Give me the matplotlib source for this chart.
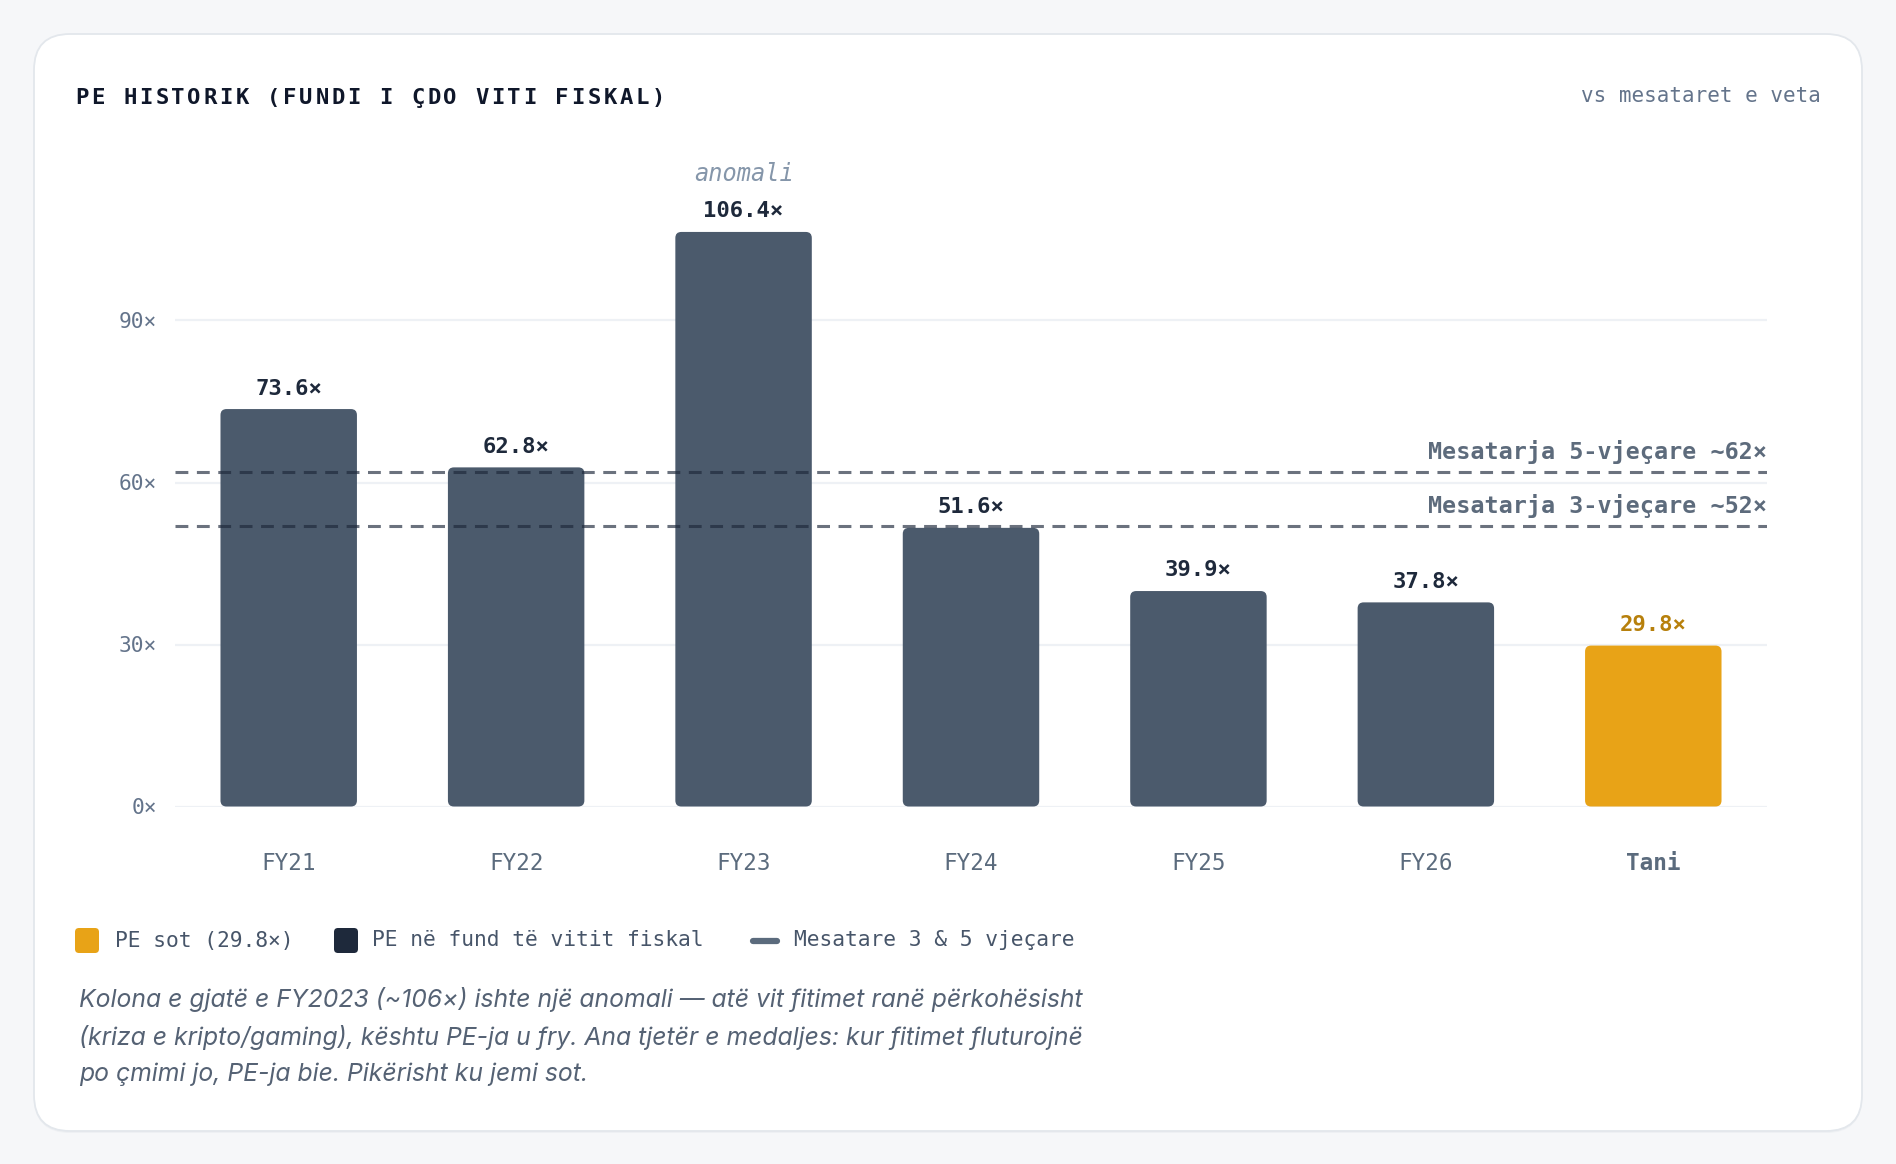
import matplotlib
matplotlib.use("Agg")
import matplotlib.pyplot as plt
from matplotlib.patches import FancyBboxPatch
from matplotlib.lines import Line2D

# ---------------- data ----------------
categories = ["FY21", "FY22", "FY23", "FY24", "FY25", "FY26", "Tani"]
pe_values = [73.6, 62.8, 106.4, 51.6, 39.9, 37.8, 29.8]
avg_5y = 62
avg_3y = 52
y_ticks = [0, 30, 60, 90]
y_tick_labels = ["0×", "30×", "60×", "90×"]

title = "PE HISTORIK (FUNDI I ÇDO VITI FISKAL)"
subtitle = "vs mesataret e veta"
avg5_label = "Mesatarja 5-vjeçare ~62×"
avg3_label = "Mesatarja 3-vjeçare ~52×"
anomaly_label = "anomali"
legend_labels = ["PE sot (29.8×)", "PE në fund të vitit fiskal", "Mesatare 3 & 5 vjeçare"]
footnote_lines = [
    "Kolona e gjatë e FY2023 (~106×) ishte një anomali — atë vit fitimet ranë përkohësisht",
    "(kriza e kripto/gaming), kështu PE-ja u fry. Ana tjetër e medaljes: kur fitimet fluturojnë",
    "po çmimi jo, PE-ja bie. Pikërisht ku jemi sot.",
]

# ---------------- style ----------------
W, H = 1896, 1164
DPI = 100
MONO = "DejaVu Sans Mono"
SANS = ["Inter", "DejaVu Sans"]
BAR = "#4b5a6c"
NOW = "#e8a317"
NOW_TXT = "#b7800c"
DARK = "#1e293b"
GRAY = "#64748b"

fig = plt.figure(figsize=(W / DPI, H / DPI), dpi=DPI)
fig.patch.set_facecolor("#f6f7f9")

# background / card axes in pixel coordinates
bg = fig.add_axes([0, 0, 1, 1])
bg.set_xlim(0, W)
bg.set_ylim(H, 0)
bg.axis("off")
bg.set_zorder(0)

shadow = FancyBboxPatch((34, 36), 1828, 1097, boxstyle="round,pad=0,rounding_size=36",
                        facecolor="#eef0f3", edgecolor="none")
bg.add_patch(shadow)
card = FancyBboxPatch((34, 34), 1828, 1097, boxstyle="round,pad=0,rounding_size=36",
                      facecolor="white", edgecolor="#e3e7ec", linewidth=1.3)
bg.add_patch(card)

# title with letter spacing
x0, adv = 75, 16.0
for i, ch in enumerate(title):
    bg.text(x0 + i * adv + adv / 2 - 1, 104, ch, ha="center", va="baseline",
            fontsize=16, fontweight="bold", family=MONO, color="#0f172a")

bg.text(1821, 96.5, subtitle, ha="right", va="center", fontsize=15, family=MONO, color=GRAY)

# ---------------- main chart ----------------
ax_left, ax_right = 175, 1767
y_zero_px, ymax = 806.5, 115
px_per_unit = 486 / 90.0
ax_top_px = y_zero_px - ymax * px_per_unit
ax = fig.add_axes([ax_left / W, (H - y_zero_px) / H, (ax_right - ax_left) / W,
                   (y_zero_px - ax_top_px) / H])
ax.set_zorder(1)
ax.patch.set_alpha(0)
ax.set_xlim(-0.5, len(categories) - 0.5)
ax.set_ylim(0, ymax)
for s in ax.spines.values():
    s.set_visible(False)

ax.set_yticks(y_ticks)
ax.set_yticklabels(y_tick_labels, family=MONO, fontsize=15.3, color=GRAY)
ax.tick_params(axis="y", length=0, pad=13)
ax.set_xticks(range(len(categories)))
ax.set_xticklabels(categories, family=MONO, fontsize=16.3, color="#5b6b7d")
ax.tick_params(axis="x", length=0, pad=33)
xt = ax.get_xticklabels()
xt[-1].set_fontweight("bold")
ax.grid(axis="y", color="#eef1f5", linewidth=1.6, zorder=0)
ax.set_axisbelow(True)

colors = [BAR] * (len(categories) - 1) + [NOW]
bars = ax.bar(range(len(categories)), pe_values, width=0.6, color=colors)

# round the bar corners
x_units_per_px = (len(categories)) / (ax_right - ax_left)
y_units_per_px = ymax / (y_zero_px - ax_top_px)
radius_px = 6
for b in bars:
    x, y = b.get_x(), b.get_y()
    w, h = b.get_width(), b.get_height()
    fc = b.get_facecolor()
    b.remove()
    p = FancyBboxPatch((x, y), w, h,
                       boxstyle=f"round,pad=0,rounding_size={radius_px * x_units_per_px}",
                       mutation_aspect=y_units_per_px / x_units_per_px,
                       facecolor=fc, edgecolor="none", zorder=2)
    ax.add_patch(p)

# average lines
for val in (avg_5y, avg_3y):
    ax.axhline(val, color=DARK, alpha=0.66, linewidth=2.2, dashes=(4.2, 2.8), zorder=3)
for val, lab in ((avg_5y, avg5_label), (avg_3y, avg3_label)):
    ax.annotate(lab, xy=(1, val), xycoords=("axes fraction", "data"),
                xytext=(0, 14.5), textcoords="offset points", ha="right", va="center",
                family=MONO, fontsize=16.8, fontweight="bold", color="#5d6b7c")

# value labels
for i, v in enumerate(pe_values):
    c = NOW_TXT if i == len(pe_values) - 1 else DARK
    ax.annotate(f"{v:.1f}×", xy=(i, v), xytext=(0, 14.8), textcoords="offset points",
                ha="center", va="center", family=MONO, fontsize=16, fontweight="bold", color=c)

imax = pe_values.index(max(pe_values))
ax.annotate(anomaly_label, xy=(imax, pe_values[imax]), xytext=(0, 41.5), textcoords="offset points",
            ha="center", va="center", family=MONO, fontsize=17, fontstyle="italic", color="#8596aa")

# ---------------- legend ----------------
leg_y = 940.5
bg.add_patch(FancyBboxPatch((75, leg_y - 12.5), 24, 25, boxstyle="round,pad=0,rounding_size=4",
                            facecolor=NOW, edgecolor="none"))
bg.text(115, leg_y, legend_labels[0], ha="left", va="center", family=MONO, fontsize=15.3, color="#475569")
bg.add_patch(FancyBboxPatch((334, leg_y - 12.5), 24, 25, boxstyle="round,pad=0,rounding_size=4",
                            facecolor=DARK, edgecolor="none"))
bg.text(372, leg_y, legend_labels[1], ha="left", va="center", family=MONO, fontsize=15.3, color="#475569")
bg.add_line(Line2D([753, 777], [leg_y, leg_y], color="#5b6b7d", linewidth=4.5,
                   solid_capstyle="round"))
bg.text(794, leg_y, legend_labels[2], ha="left", va="center", family=MONO, fontsize=15.3, color="#475569")

# ---------------- footnote ----------------
for k, line in enumerate(footnote_lines):
    bg.text(79, 1000 + k * 37, line, ha="left", va="center", family=SANS, fontsize=17.8,
            fontstyle="italic", color="#556274")

fig.savefig("out.png", dpi=DPI, facecolor=fig.get_facecolor())
